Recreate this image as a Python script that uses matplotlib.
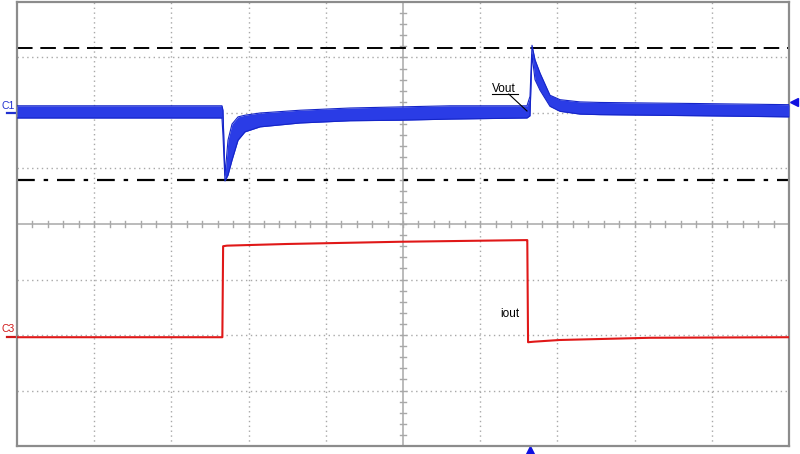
import matplotlib.pyplot as plt

# screen is 10 x 8 divisions, values below are in divisions
# Vout (C1): noisy band, lower / upper edge of the trace
t_v = [0, 2.655, 2.668, 2.694, 2.733, 2.785, 2.863, 2.953, 3.148, 3.666, 4.313, 4.961, 5.609,
       6.606, 6.645, 6.671, 6.71, 6.775, 6.904, 7.034, 7.293, 7.552, 8.847, 10.0]
vout_hi = [2.13, 2.13, 2.05, 0.88, 1.51, 1.80, 1.93, 1.96, 2.00, 2.05, 2.09, 2.11, 2.13,
           2.13, 2.30, 3.22, 2.96, 2.72, 2.32, 2.24, 2.20, 2.19, 2.17, 2.15]
vout_lo = [1.91, 1.91, 1.60, 0.775, 0.88, 1.15, 1.51, 1.66, 1.75, 1.82, 1.86, 1.87, 1.89,
           1.91, 1.95, 3.05, 2.60, 2.41, 2.12, 2.03, 1.98, 1.97, 1.95, 1.93]

# iout (C3)
t_i = [0, 2.66, 2.67, 2.72, 3.5, 4.96, 6.60, 6.61, 6.62, 6.70, 7.03, 8.2, 10.0]
iout = [-2.04, -2.04, -0.40, -0.39, -0.36, -0.32, -0.29, -0.29, -2.13, -2.12, -2.09, -2.05, -2.04]

upper_limit = 3.17
lower_limit = 0.79

fig = plt.figure(figsize=(8, 4.54), dpi=100)
ax = fig.add_axes([17/800, 8/454, 772/800, 444/454])
ax.set_xlim(0, 10)
ax.set_ylim(-4, 4)
plt.rcParams['font.family'] = ['Liberation Sans', 'DejaVu Sans']

# graticule
grid_col = '#a8a8a8'
for gx in range(1, 10):
    if gx != 5:
        ax.axvline(gx, color=grid_col, lw=1, ls=(0, (1, 2.5)), zorder=1)
for gy in range(-3, 4):
    if gy != 0:
        ax.axhline(gy, color=grid_col, lw=1, ls=(0, (1, 2.5)), zorder=1)
ax.axvline(5, color=grid_col, lw=1.1, zorder=1)
ax.axhline(0, color=grid_col, lw=1.1, zorder=1)
for k in range(1, 50):
    tx = k * 0.2
    ax.plot([tx, tx], [-0.05, 0.05], color=grid_col, lw=1, zorder=1)
for k in range(-19, 20):
    ty = k * 0.2
    ax.plot([4.96, 5.04], [ty, ty], color=grid_col, lw=1, zorder=1)

for s in ax.spines.values():
    s.set_color('#8c8c8c')
    s.set_linewidth(1.6)
ax.set_xticks([])
ax.set_yticks([])

# cursors
ax.axhline(upper_limit, color='black', lw=1.4, ls=(0, (8, 4)), zorder=2)
ax.axhline(lower_limit, color='black', lw=1.6, ls=(0, (8, 4, 2, 4)), zorder=2)

# traces
ax.fill_between(t_v, vout_lo, vout_hi, color='#2a3ce6', lw=0, zorder=3)
ax.plot(t_v, vout_hi, color='#1525c8', lw=0.8, zorder=3)
ax.plot(t_v, vout_lo, color='#1525c8', lw=0.8, zorder=3)
ax.plot(t_i, iout, color='#e01818', lw=1.5, zorder=3)

# labels
ax.text(6.153, 2.38, 'Vout', fontsize=8.5, zorder=4)
ax.plot([6.153, 6.49], [2.342, 2.342], color='black', lw=0.8, zorder=4)
ax.plot([6.37, 6.606], [2.342, 2.036], color='black', lw=0.8, zorder=4)
ax.text(6.257, -1.676, 'iout', fontsize=8.5, zorder=4)

# channel markers
ax.text(-0.2, 2.07, 'C1', fontsize=7.5, color='#2030d0', clip_on=False)
ax.plot([-0.13, 0], [2.0, 2.0], color='#2030d0', lw=1.6, clip_on=False)
ax.text(-0.2, -1.95, 'C3', fontsize=7.5, color='#d01818', clip_on=False)
ax.plot([-0.13, 0], [-2.04, -2.04], color='#d01818', lw=1.6, clip_on=False)
ax.plot([10.06], [2.2], marker='<', color='#1010e0', ms=6, clip_on=False)
ax.plot([6.645], [-4.08], marker='^', color='#1010e0', ms=6, clip_on=False)

fig.savefig('out.png', dpi=100)
